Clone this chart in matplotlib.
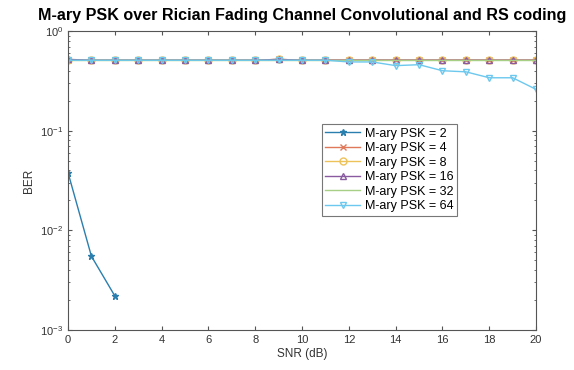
import numpy as np
import matplotlib
matplotlib.use("Agg")
import matplotlib.pyplot as plt
from matplotlib.ticker import LogLocator, NullFormatter

plt.rcParams['font.family'] = ['Liberation Sans', 'DejaVu Sans']

snr = np.arange(0, 21)

ber_2 = [0.038, 0.0055, 0.0022]
ber_4 = [0.51, 0.51, 0.51, 0.51, 0.51, 0.51, 0.51, 0.51, 0.51, 0.52, 0.51,
         0.51, 0.51, 0.51, 0.51, 0.51, 0.51, 0.51, 0.51, 0.51, 0.51]
ber_8 = [0.51, 0.51, 0.51, 0.51, 0.51, 0.51, 0.51, 0.51, 0.51, 0.52, 0.51,
         0.51, 0.51, 0.51, 0.51, 0.51, 0.51, 0.51, 0.51, 0.51, 0.51]
ber_16 = [0.52, 0.51, 0.51, 0.51, 0.51, 0.51, 0.51, 0.51, 0.51, 0.52, 0.51,
          0.51, 0.51, 0.51, 0.51, 0.51, 0.51, 0.51, 0.51, 0.51, 0.51]
ber_32 = [0.51, 0.51, 0.51, 0.51, 0.51, 0.51, 0.51, 0.51, 0.51, 0.51, 0.51,
          0.51, 0.51, 0.51, 0.51, 0.51, 0.51, 0.51, 0.51, 0.51, 0.51]
ber_64 = [0.51, 0.51, 0.51, 0.51, 0.51, 0.51, 0.51, 0.51, 0.51, 0.51, 0.51,
          0.51, 0.49, 0.49, 0.45, 0.46, 0.40, 0.39, 0.34, 0.34, 0.26]

labels = ['M-ary PSK = 2', 'M-ary PSK = 4', 'M-ary PSK = 8',
          'M-ary PSK = 16', 'M-ary PSK = 32', 'M-ary PSK = 64']
colors = ['#2a7fae', '#e0795a', '#eec25a', '#8a5aa0', '#a8cf86', '#6cc8ee']
markers = ['*', 'x', 'o', '^', '', 'v']
series = [ber_2, ber_4, ber_8, ber_16, ber_32, ber_64]

fig = plt.figure(figsize=(5.74, 3.70), dpi=100)
ax = fig.add_axes([0.1185, 0.108, 0.8155, 0.808])

for y, lab, c, m in zip(series, labels, colors, markers):
    ax.semilogy(snr[:len(y)], y, color=c, marker=m if m else None,
                markersize=5, markerfacecolor='none' if m in ('o', '^', 'v') else c,
                linewidth=1.0, label=lab)

ax.set_xlim(0, 20)
ax.set_ylim(1e-3, 1)
ax.set_xticks(np.arange(0, 21, 2))
ax.yaxis.set_major_locator(LogLocator(base=10, numticks=10))
ax.yaxis.set_minor_locator(LogLocator(base=10, subs=np.arange(2, 10), numticks=10))
ax.yaxis.set_minor_formatter(NullFormatter())
ax.tick_params(which='both', direction='in', top=True, right=True,
               labelsize=8, colors='#555555', labelcolor='#333333')
ax.tick_params(which='major', length=3)
ax.tick_params(which='minor', length=1.5)
for s in ax.spines.values():
    s.set_color('#555555')
    s.set_linewidth(0.8)

ax.set_xlabel('SNR (dB)', fontsize=8.5, color='#333333', labelpad=2)
ax.set_ylabel('BER', fontsize=8.5, color='#333333')
ax.set_title('M-ary PSK over Rician Fading Channel Convolutional and RS coding',
             fontsize=11.6, fontweight='bold', pad=8)

leg = ax.legend(loc='upper left', bbox_to_anchor=(0.542, 0.69), fontsize=9,
                frameon=True, fancybox=False, edgecolor='#555555',
                handlelength=2.8, borderpad=0.3, labelspacing=0.2,
                handletextpad=0.35, borderaxespad=0)
leg.get_frame().set_linewidth(0.8)

fig.savefig('out.png', dpi=100)
